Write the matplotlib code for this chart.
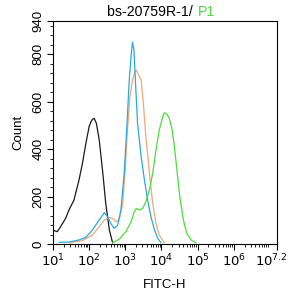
import matplotlib
matplotlib.use("Agg")
import matplotlib.pyplot as plt
import matplotlib.transforms as mtransforms
import numpy as np
from matplotlib.ticker import FixedLocator, LogLocator, NullFormatter

plt.rcParams['font.family'] = ['Liberation Sans', 'DejaVu Sans']

# log10(FITC-H) positions and counts for each histogram
black_x = [1.0, 1.12, 1.21, 1.35, 1.44, 1.58, 1.72, 1.815, 1.91, 2.0, 2.05, 2.09, 2.14, 2.20, 2.28, 2.37, 2.46, 2.56, 2.65]
black_y = [58, 52, 73, 108, 143, 185, 270, 340, 424, 495, 515, 525, 530, 509, 438, 312, 171, 59, 5]

blue_x = [1.17, 1.44, 1.72, 1.91, 2.09, 2.28, 2.42, 2.51, 2.60, 2.69, 2.79, 2.88, 2.97, 3.04, 3.11, 3.16, 3.20, 3.24, 3.28, 3.34, 3.44, 3.53, 3.62, 3.71, 3.81, 3.90, 3.99]
blue_y = [7, 8, 17, 28, 59, 101, 132, 115, 87, 66, 80, 143, 298, 480, 691, 790, 851, 818, 691, 509, 368, 270, 185, 115, 59, 24, 5]

orange_x = [1.44, 1.815, 2.09, 2.28, 2.42, 2.56, 2.65, 2.74, 2.83, 2.93, 3.0, 3.06, 3.13, 3.20, 3.27, 3.31, 3.37, 3.44, 3.5, 3.57, 3.67, 3.76, 3.85, 3.94, 4.08]
orange_y = [5, 14, 38, 73, 101, 112, 108, 94, 101, 171, 312, 480, 621, 691, 726, 733, 712, 691, 593, 452, 298, 171, 87, 38, 5]

green_x = [2.65, 2.83, 3.02, 3.16, 3.25, 3.31, 3.39, 3.48, 3.57, 3.67, 3.76, 3.85, 3.94, 4.04, 4.08, 4.15, 4.22, 4.30, 4.36, 4.43, 4.51, 4.61, 4.70, 4.82, 4.96]
green_y = [5, 20, 52, 94, 136, 150, 143, 150, 178, 228, 298, 396, 480, 537, 553, 548, 530, 480, 410, 312, 199, 101, 45, 17, 5]

xtick_exps = [1, 2, 3, 4, 5, 6, 7.2]
xtick_labels = ["$10^{1}$", "$10^{2}$", "$10^{3}$", "$10^{4}$", "$10^{5}$", "$10^{6}$", "$10^{7.2}$"]
ytick_vals = [0, 200, 400, 600, 800, 940]

fig = plt.figure(figsize=(2.90, 2.96), dpi=100)
ax = fig.add_axes([53/290, 52/296, 224/290, 223/296])

for xs, ys, c in [(black_x, black_y, '#1a1a1a'),
                  (orange_x, orange_y, '#f0a878'),
                  (blue_x, blue_y, '#2aa8dc'),
                  (green_x, green_y, '#4cdc3c')]:
    ax.plot(10 ** np.array(xs), ys, color=c, lw=0.9)

ax.set_xscale('log')
ax.set_xlim(10, 10 ** 7.2)
ax.set_ylim(0, 940)
ax.xaxis.set_major_locator(FixedLocator([10 ** e for e in xtick_exps]))
ax.set_xticklabels(xtick_labels, fontsize=9.5)
ax.xaxis.set_minor_locator(LogLocator(base=10, subs=np.arange(2, 10), numticks=20))
ax.xaxis.set_minor_formatter(NullFormatter())
ax.set_yticks(ytick_vals)
ax.set_yticklabels([str(v) for v in ytick_vals], fontsize=9.5, rotation=90, va='center')
ax.yaxis.set_minor_locator(FixedLocator(np.arange(0, 941, 40)))
ax.tick_params(which='major', length=4, width=0.8, direction='out', pad=2)
ax.tick_params(which='minor', length=2, width=0.6, direction='out')
for s in ax.spines.values():
    s.set_linewidth(0.8)

# shift last x tick label left so it stays inside the figure
last = ax.get_xticklabels()[-1]
last.set_transform(last.get_transform() + mtransforms.ScaledTranslation(-6/100, 0, fig.dpi_scale_trans))

ax.set_xlabel("FITC-H", fontsize=9.5, labelpad=7)
ax.set_ylabel("Count", fontsize=9.5, labelpad=6)

fig.text(197/290, 1 - 12/296, "bs-20759R-1/ ", ha='right', va='center', fontsize=10.2)
fig.text(198/290, 1 - 12/296, "P1", ha='left', va='center', fontsize=10.2, color='#4cdc3c')

fig.savefig("out.png", dpi=100)
